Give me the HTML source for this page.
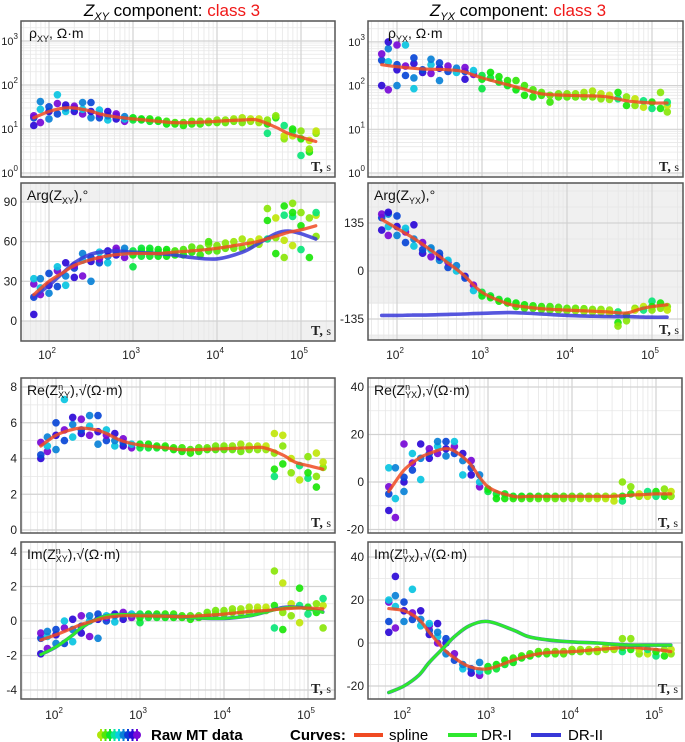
<!DOCTYPE html>
<html><head><meta charset="utf-8"><style>
html,body{margin:0;padding:0;background:#fff}
svg{display:block;font-family:"Liberation Sans",sans-serif}
</style></head><body>
<svg id="fig" width="685" height="742" viewBox="0 0 685 742" xmlns="http://www.w3.org/2000/svg">
<text x="172" y="16" text-anchor="middle" font-size="17"><tspan font-style="italic">Z</tspan><tspan font-style="italic" font-size="11" dy="4">XY</tspan><tspan dy="-4"> component: </tspan><tspan fill="#f01818">class 3</tspan></text>
<text x="518" y="16" text-anchor="middle" font-size="17"><tspan font-style="italic">Z</tspan><tspan font-style="italic" font-size="11" dy="4">YX</tspan><tspan dy="-4"> component: </tspan><tspan fill="#f01818">class 3</tspan></text>
<g id="panels"></g>
<g id="legend">
  <g id="rawswatch"></g>
  <text x="151" y="740" font-size="15" font-weight="bold">Raw MT data</text>
  <text x="290" y="740" font-size="15" font-weight="bold">Curves:</text>
  <line x1="354" y1="735" x2="383" y2="735" stroke="#f04a22" stroke-width="4"/>
  <text x="389" y="740" font-size="15">spline</text>
  <line x1="448" y1="735" x2="477" y2="735" stroke="#2ee82e" stroke-width="4"/>
  <text x="481" y="740" font-size="15">DR-I</text>
  <line x1="531" y1="735" x2="561" y2="735" stroke="#3838d8" stroke-width="4"/>
  <text x="568" y="740" font-size="15">DR-II</text>
</g>
</svg>
<script>
const periods=[66,79,100,126,158,200,251,316,398,501,631,794,1000,1259,1585,1995,2512,3162,3981,5012,6310,7943,10000,12589,15849,19953,25119,31623,39811,50119,63096,79433,100000,125893,151356];
const rhoXY=[[12,18,20],[14,28,42],[17,25,32],[22,38,60],[25,30,35],[25,30,33],[22,28,40],[18,25,40],[18,22,27],[16,20,25],[17,20,22],[15,17,19],[16,18],[16,17],[15,17],[15,16],[13,15],[13,14],[12,14],[13,15],[13,15],[14,15],[14,16],[14,16],[15,17],[14,18],[15,17],[14,17],[8,13,16],[18,20],[6,7,12],[7,9,10],[2.5,6,9],[3,3.5,5.5],[8,9]];
const argXY=[[5,18,28,32],[20,25,32],[21,27,36],[26,38,41],[27,34,44],[33,40,42],[34,46,51],[30,45,48],[44,47,52],[44,49,53],[50,53,55],[48,52,55],[41,50,53],[49,53,55],[49,53,55],[49,52,54],[49,52,54],[50,53],[50,54],[52,56],[50,55],[53,58,60],[53,57],[55,59],[55,60],[55,62],[57,60],[58,62],[62,76,85],[51,63,78],[48,61,80,87],[57,79,82,89],[54,72,82],[48,78],[64,80,82]];
const reXY=[[4.0,4.2,4.9],[4.4,4.7,5.2],[4.5,5.3,6.0],[5.0,5.6,7.3],[5.2,5.9,6.3],[5.4,5.6,6.2],[5.3,5.8,6.4],[4.8,5.5,6.4],[5.0,5.3,5.6],[4.7,5.0,5.4],[4.7,4.9,5.1],[4.6,4.8],[4.6,4.8],[4.6,4.8],[4.6,4.7],[4.6,4.7],[4.5,4.6],[4.4,4.6],[4.3,4.5],[4.4,4.6],[4.5,4.6],[4.5,4.7],[4.5,4.7],[4.5,4.7],[4.4,4.8],[4.5,4.7],[4.5,4.7],[4.5,4.7],[3.0,3.4,4.3,5.4],[3.7,4.7,5.3],[3.2,4.0],[2.8,3.6],[2.9,3.2,4.1],[2.4,3.0,4.3],[3.5,3.8]];
const imXY=[[-1.9,-1.0,-0.7],[-1.6,-0.9,-0.6],[-1.3,-0.8,-0.5],[-1.3,-0.4,0.0],[-1.2,-0.5,0.1],[-0.7,-0.3,0.3],[-0.9,0.0,0.3],[-1.0,0.1,0.4],[0.0,0.2,0.3],[-0.05,0.3,0.4],[0.1,0.3,0.5],[0.2,0.4],[-0.1,0.2,0.4],[0.2,0.4],[0.2,0.4],[0.2,0.4],[0.2,0.4],[0.2,0.3],[0.1,0.3],[0.2,0.3],[0.3,0.5],[0.4,0.6],[0.4,0.6],[0.5,0.7],[0.5,0.7],[0.5,0.8],[0.6,0.8],[0.6,0.8],[-0.4,0.9,2.9],[-0.5,0.5,2.2],[0.3,1.0],[-0.1,0.9,1.9],[0.4,0.8],[0.5,1.0],[-0.4,0.9,1.3]];
const rhoYX=[[100,380,530],[80,350,700,1000],[100,230,300,850],[170,280,850],[85,150,320,430],[200,230],[190,300,400],[130,250,330],[210,280],[200,250],[140,210,260],[180,220],[85,140,170],[150,200],[120,160],[100,130],[80,130],[60,100],[55,80],[60,70],[42,60],[55,65],[55,65],[55,65],[55,70],[55,75],[50,65],[48,60],[50,70],[35,55],[35,50],[32,45],[30,42],[30,70],[25,35,42]];
const argYX=[[115,150,160],[100,125,160,165],[100,125,155],[80,110,120],[70,90,130],[50,60,80],[40,60,65],[30,40,50],[10,25,30],[0,15],[-15,-20],[-40,-55],[-60,-70],[-70,-75],[-80,-85],[-85,-90],[-90,-100],[-95,-105],[-98,-105],[-100,-108],[-100,-110],[-102,-110],[-105,-112],[-105,-112],[-106,-114],[-108,-115],[-108,-116],[-110,-118],[-115,-145,-155],[-125,-140],[-105,-110],[-100,-110],[-85,-100,-110],[-90,-105],[-100,-110]];
const reYX=[[-12,-5,-2,6],[-15,-7,6],[-4,0,2,16],[5,8,12],[1,10,16],[10,12,14],[12,15,17],[11,14,17],[12,15,17],[3,9,12],[3,6,9],[-2,0,3],[-4,-3],[-5,-7],[-5,-7],[-6,-7],[-6,-7],[-6,-7],[-6,-7],[-6,-7],[-6,-7],[-6,-7],[-6,-7],[-6,-7],[-6,-7],[-6,-7],[-6,-7],[-6,-8],[-8,-6,0],[-5,-2],[-6,-5],[-6,-4],[-6,-4],[-6,-3],[-6,-4]];
const imYX=[[5,10,19,20],[7,17,22,31],[10,15,19],[11,14,25],[8,11,15],[4,6,8,9],[0,3,5,9],[-5,0,2],[-8,-5],[-12,-10],[-14,-12],[-15,-13,-9],[-13,-11],[-12,-10],[-10,-8],[-9,-7],[-7,-6],[-6,-5],[-5,-4],[-5,-4],[-5,-4],[-5,-4],[-4,-3],[-4,-3],[-4,-3],[-4,-3],[-3,-2],[-3,-2],[-4,-2,2],[-3,2],[-5,-3],[-5,-3],[-6,-4],[-6,-3],[-5,-3]];

const curveT=[66,100,150,200,300,400,600,1000,2000,3000,5000,10000,20000,30000,50000,70000,100000,150000];
const rhoXYspline=[18,25,30,30,26,22,19,17,15,14,14,15,16,16,11,8,6.5,5.2];
const argXYspline=[20,30,37,42,46,48,50,51,51,52,53,55,58,60,64,67,69,72];
const argXYdr2=[18,27,37,44,50,52,53,52,51,50,48,47,52,58,66,68,66,62];
const reXYspline=[4.7,5.3,5.6,5.7,5.6,5.4,5.0,4.75,4.6,4.5,4.5,4.55,4.6,4.6,4.2,3.8,3.6,3.4];
const imXYspline=[-1.1,-0.8,-0.45,-0.2,0.05,0.2,0.3,0.3,0.28,0.25,0.3,0.4,0.55,0.6,0.7,0.75,0.75,0.7];
const imXYdr1=[-1.95,-1.5,-0.9,-0.4,0.1,0.3,0.38,0.35,0.3,0.25,0.18,0.15,0.3,0.5,0.75,0.78,0.7,0.5];
const imXYdr2=[-1.95,-1.5,-0.9,-0.4,0.1,0.3,0.38,0.35,0.3,0.25,0.18,0.15,0.3,0.5,0.78,0.8,0.72,0.52];
const rhoYXspline=[300,270,250,240,235,230,210,150,105,85,65,60,58,55,45,42,40,40];
const argYXspline=[145,120,95,75,45,22,-10,-60,-92,-100,-106,-110,-113,-115,-118,-108,-100,-95];
const argYXdr2=[-125,-125,-124,-124,-123,-122,-121,-119,-117,-118,-121,-125,-127,-128,-128,-129,-130,-130];
const reYXspline=[-4,5,10,12,14,13,8,-2,-6,-6,-6,-6,-6,-6,-5.5,-5.3,-5,-5];
const imYXspline=[16,15,11,5,-3,-7,-11,-12,-8,-6,-4.5,-4,-3,-2.5,-2,-2.5,-3,-4];
const imYXdr1=[-23,-20,-15,-9,-2,3,8,10,6,3,1.5,0.5,0,-0.5,-1,-1,-1,-1];
const imYXdr2=[-23,-20,-15,-9,-2,3,8,10,6,3,1.5,0.5,0,-0.5,-1,-1,-1,-1];

const xTickExp=[2,3,4,5];
const rhoTickExp=[0,1,2,3];
const argXYTicks=[0,30,60,90];
const argYXTicks=[-135,0,135];
const reXYTicks=[0,2,4,6,8];
const imXYTicks=[-4,-2,0,2,4];
const reYXTicks=[-20,0,20,40];
const imYXTicks=[-20,0,20,40];

const NS='http://www.w3.org/2000/svg';
const root=document.getElementById('panels');
function mk(tag,attrs,parent){const e=document.createElementNS(NS,tag);for(const k in attrs)e.setAttribute(k,attrs[k]);(parent||root).appendChild(e);return e;}
function hueFor(i,j){const lt=Math.log10(periods[i]);
  if(lt<2.95){const p=[250,222,272,188,205];return p[(i*2+j)%5];}
  if(lt<4.55){return 135-(lt-3)*35-((j%2)?12:0);}
  const p=[150,115,85,70];return p[(i+j)%4];}
function col(h){return 'hsl('+h+',92%,'+(h>200?'44%':(h>160?'46%':'47%'))+')';}

const panels=[
 {id:'rho-xy',x0:21,y0:21,x1:335,y1:177,xa:49,xd:84,log:true,ya:173,yd:44,data:rhoXY,ticks:rhoTickExp,curves:[['spline',rhoXYspline]],title:['ρ','XY',', Ω·m'],xlab:false},
 {id:'arg-xy',x0:21,y0:183,x1:335,y1:341,xa:49,xd:84,ya:321,yk:119/90,data:argXY,ticks:argXYTicks,minor:15,curves:[['dr2',argXYdr2],['spline',argXYspline]],title:['Arg(Z','XY','),°'],bands:[[90,1e9],[-1e9,0]],xlab:355},
 {id:'rho-yx',x0:368,y0:21,x1:683,y1:177,xa:397,xd:85,log:true,ya:173,yd:43.7,data:rhoYX,ticks:rhoTickExp,curves:[['spline',rhoYXspline]],title:['ρ','YX',', Ω·m'],xlab:false},
 {id:'arg-yx',x0:368,y0:183,x1:683,y1:340,xa:397,xd:85,ya:271,yk:48/135,data:argYX,ticks:argYXTicks,minor:45,curves:[['dr2',argYXdr2],['spline',argYXspline]],title:['Arg(Z','YX','),°'],bands:[[-92,1e9],[-1e9,-180]],xlab:355},
 {id:'re-xy',x0:21,y0:378,x1:335,y1:533,xa:56,xd:84,ya:530,yk:143/8,data:reXY,ticks:reXYTicks,minor:1,curves:[['spline',reXYspline]],title:['Re(Z','XY','),√(Ω·m)'],n:true,xlab:false},
 {id:'im-xy',x0:21,y0:542,x1:335,y1:699,xa:56,xd:84,ya:621,yk:69/4,data:imXY,ticks:imXYTicks,minor:1,curves:[['dr2',imXYdr2],['dr1',imXYdr1],['spline',imXYspline]],title:['Im(Z','XY','),√(Ω·m)'],n:true,xlab:715},
 {id:'re-yx',x0:368,y0:378,x1:682,y1:533,xa:404,xd:84,ya:482,yk:95/40,data:reYX,ticks:reYXTicks,minor:10,curves:[['spline',reYXspline]],title:['Re(Z','YX','),√(Ω·m)'],n:true,xlab:false},
 {id:'im-yx',x0:368,y0:542,x1:682,y1:699,xa:404,xd:84,ya:643,yk:86/40,data:imYX,ticks:imYXTicks,minor:10,curves:[['spline',imYXspline],['dr2',imYXdr2],['dr1',imYXdr1]],title:['Im(Z','YX','),√(Ω·m)'],n:true,xlab:715}
];
const curveStyle={spline:['#f04a22',3.2,0.85],dr1:['#2ee82e',3,1],dr2:['#3838d8',3.6,0.85]};

panels.forEach((p,pi)=>{
  const X=t=>p.xa+(Math.log10(t)-2)*p.xd;
  const Y=v=>p.log?p.ya-Math.log10(v)*p.yd:p.ya-v*p.yk;
  const g=mk('g',{});
  
  
  const cid='clip'+pi;
  const cp=mk('clipPath',{id:cid},g);mk('rect',{x:p.x0,y:p.y0,width:p.x1-p.x0,height:p.y1-p.y0},cp);
  const inner=mk('g',{'clip-path':'url(#'+cid+')'},g);
  mk('rect',{x:p.x0,y:p.y0,width:p.x1-p.x0,height:p.y1-p.y0,fill:'#fff'},inner);
  (p.bands||[]).forEach(b=>{const ya=Math.max(p.y0,Math.min(p.y1,Y(b[1]))),yb=Math.max(p.y0,Math.min(p.y1,Y(b[0])));
    if(yb>ya){const r=mk('rect',{x:p.x0,y:ya,width:p.x1-p.x0,height:yb-ya,fill:'#f0f0f0'},inner);
    
    }});
  for(let e=1;e<=5;e++)for(let m=2;m<=9;m++){const x=X(m*Math.pow(10,e));if(x>p.x0&&x<p.x1)mk('line',{x1:x,x2:x,y1:p.y0,y2:p.y1,stroke:'#e6e6e6','stroke-width':0.8},inner);}
  if(p.log){for(let e=-1;e<=3;e++)for(let m=2;m<=9;m++){const y=Y(m*Math.pow(10,e));if(y>p.y0&&y<p.y1)mk('line',{x1:p.x0,x2:p.x1,y1:y,y2:y,stroke:'#e8e8e8','stroke-width':0.8},inner);}
    p.ticks.forEach(e=>{const y=Y(Math.pow(10,e));mk('line',{x1:p.x0,x2:p.x1,y1:y,y2:y,stroke:'#d2d2d2','stroke-width':1.2},inner);});}
  else{const lo=Math.min(...p.ticks)-p.minor*8,hi=Math.max(...p.ticks)+p.minor*8;
    for(let v=lo;v<=hi;v+=p.minor){const y=Y(v);if(y>p.y0&&y<p.y1)mk('line',{x1:p.x0,x2:p.x1,y1:y,y2:y,stroke:'#e6e6e6','stroke-width':0.8},inner);}
    p.ticks.forEach(v=>{const y=Y(v);mk('line',{x1:p.x0,x2:p.x1,y1:y,y2:y,stroke:'#d2d2d2','stroke-width':1.2},inner);});}
  xTickExp.forEach(e=>{const x=X(Math.pow(10,e));mk('line',{x1:x,x2:x,y1:p.y0,y2:p.y1,stroke:'#d2d2d2','stroke-width':1.2},inner);});
  p.data.forEach((vals,i)=>{vals.forEach((v,j)=>{
    const c=mk('circle',{cx:X(periods[i]).toFixed(1),cy:Y(v).toFixed(1),r:3.8,fill:col(hueFor(i,j)),'fill-opacity':0.92},inner);
    
    });});
  p.curves.forEach(([kind,vals])=>{
    const pts=curveT.map((t,k)=>[X(t),Y(vals[k])]);
    let d='M'+pts[0][0].toFixed(1)+','+pts[0][1].toFixed(1);
    for(let k=0;k<pts.length-1;k++){const p0=pts[k-1]||pts[k],p1=pts[k],p2=pts[k+1],p3=pts[k+2]||p2;
      const c1=[p1[0]+(p2[0]-p0[0])/6,p1[1]+(p2[1]-p0[1])/6],c2=[p2[0]-(p3[0]-p1[0])/6,p2[1]-(p3[1]-p1[1])/6];
      d+=' C'+c1.map(n=>n.toFixed(1))+' '+c2.map(n=>n.toFixed(1))+' '+p2.map(n=>n.toFixed(1));}
    const s=curveStyle[kind];
    const path=mk('path',{d:d,fill:'none',stroke:s[0],'stroke-width':s[1],'stroke-opacity':s[2],'stroke-linecap':'round'},inner);
    
    });
  const fr=mk('rect',{x:p.x0,y:p.y0,width:p.x1-p.x0,height:p.y1-p.y0,fill:'none',stroke:'#555','stroke-width':1.5},g);
  
  
  const tt=mk('text',{x:p.x0+(p.log?p.x0>300?20:8:6),y:p.y0+17,'font-size':14,fill:'#111'},g);
  
  
  const a=mk('tspan',{},tt);a.textContent=p.title[0];
  if(p.n){const n=mk('tspan',{'font-size':9,dy:-5},tt);n.textContent='n';const s=mk('tspan',{'font-size':9,dy:8,dx:-5},tt);s.textContent=p.title[1];const r=mk('tspan',{dy:-3},tt);r.textContent=p.title[2];}
  else{const s=mk('tspan',{'font-size':9,dy:4},tt);s.textContent=p.title[1];const r=mk('tspan',{dy:-4},tt);r.textContent=p.title[2];}
  const ts=mk('text',{x:p.x1-4,y:p.y1-6,'text-anchor':'end','font-family':'"Liberation Serif",serif','font-size':14,fill:'#222'},g);
  
  
  const tb=mk('tspan',{'font-weight':'bold'},ts);tb.textContent='T, ';const tsx=mk('tspan',{'font-size':12},ts);tsx.textContent='s';
  const lx=p.x0-(p.log?3:4);
  p.ticks.forEach(v=>{const y=p.log?Y(Math.pow(10,v)):Y(v);
    const t=mk('text',{x:lx,y:y+4,'text-anchor':'end','font-size':p.log?11:12,fill:'#222'},g);
    
    
    if(p.log){const b=mk('tspan',{},t);b.textContent='10';const s=mk('tspan',{'font-size':8,dy:-6},t);s.textContent=String(v);}
    else t.textContent=String(v);});
  if(p.xlab){xTickExp.forEach(e=>{const x=X(Math.pow(10,e));
    const t=mk('text',{x:x-2,y:p.xlab+4,'text-anchor':'middle','font-size':12,fill:'#222'},g);
    
    
    const b=mk('tspan',{},t);b.textContent='10';const s=mk('tspan',{'font-size':8,dy:-6},t);s.textContent=String(e);});}
});
const sw=document.getElementById('rawswatch');
[75,100,130,160,185,205,225,250,272].forEach((h,k)=>{const x=101+k*4.5;
  mk('line',{x1:x,x2:x,y1:729,y2:741,stroke:col(h),'stroke-width':2},sw);
  const c=mk('circle',{cx:x,cy:735,r:4,fill:col(h)},sw);
  
  });
</script>
</body></html>
